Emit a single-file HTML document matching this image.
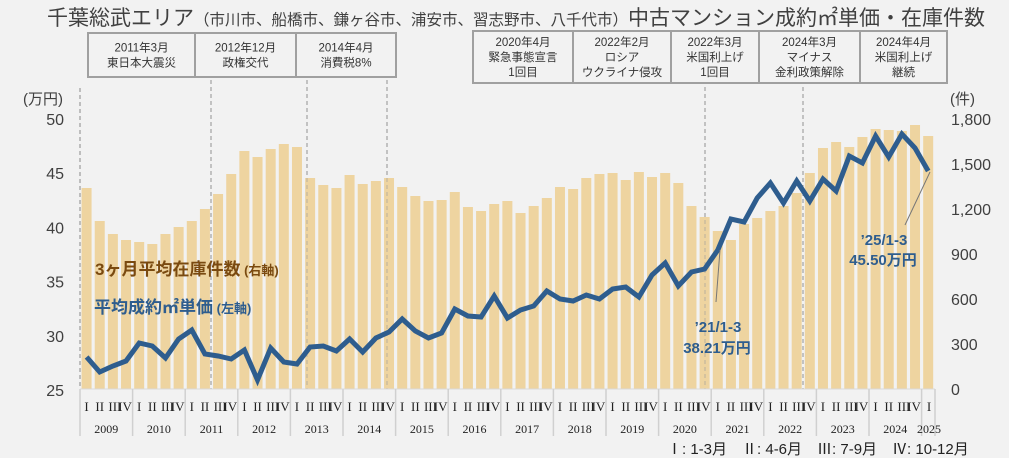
<!DOCTYPE html>
<html><head><meta charset="utf-8">
<style>
html,body{margin:0;padding:0;background:#f2f2f2;}
svg{display:block;font-family:"Liberation Sans","Noto Sans CJK JP",sans-serif;}
</style></head>
<body>
<svg id="s" width="1009" height="458" viewBox="0 0 1009 458" xmlns="http://www.w3.org/2000/svg">
<rect width="1009" height="458" fill="#f2f2f2"/>
<text x="47" y="25" font-size="21" fill="#404040">千葉総武エリア<tspan font-size="15.5">（市川市、船橋市、鎌ヶ谷市、浦安市、習志野市、八千代市）</tspan>中古マンション成約㎡単価・在庫件数</text>
<g id="g"></g>
</svg>
<script>
const NS="http://www.w3.org/2000/svg",g=document.getElementById('g');
function el(t,a,txt){const e=document.createElementNS(NS,t);for(const k in a)e.setAttribute(k,a[k]);if(txt!==undefined)e.textContent=txt;g.appendChild(e);return e;}
const bars=[188,221,234,240,242,244,234,227,221,209,194,174,151,157,149,144,147,178,185,188,175,184,181,178,187,196,201,200,192,207,211,204,201,213,206,198,187,189,178,174,173,180,172,177,173,183,206,217,231,240,224,218,211,206,193,173,148,142,147,137,129,130,131,125,136];
const line=[357,372,366,361,343,346,358,339,330,354,356,359,350,380,348,362,364,347,346,351,339,352,338,332,319,331,338,333,309,316,317,296,318,310,306,291,299,301,295,299,289,287,297,275,263,286,272,269,250,219,222,198,183,203,181,201,179,191,156,163,136,157,134,148,171];
const x0=80,q=13.15,yb=389;
[80,211,307,387,705,803].forEach(x=>el('line',{x1:x,y1:x==80?88:80,x2:x,y2:yb,stroke:'#8a8a8a','stroke-width':1,'stroke-dasharray':'4,3'}));
bars.forEach((t,i)=>{const c=x0+q*(i+0.5);el('rect',{x:c-5,y:t,width:10,height:yb-t,fill:'#eed4a0'});});
[211,307,387,705,803].forEach(x=>el('line',{x1:x,y1:80,x2:x,y2:yb,stroke:'#9a9a9a','stroke-width':1,'stroke-dasharray':'4,3','opacity':0.6}));
el('polyline',{points:line.map((y,i)=>(x0+q*(i+0.5)).toFixed(1)+','+y).join(' '),fill:'none',stroke:'#2e5d8e','stroke-width':5,'stroke-linejoin':'miter'});
el('text',{x:23,y:104,'font-size':15,fill:'#404040'},'(万円)');
[50,45,40,35,30,25].forEach((v,k)=>el('text',{x:64,y:125+k*54.2,'font-size':16,fill:'#404040','text-anchor':'end'},v));
el('text',{x:950,y:104,'font-size':15,fill:'#404040'},'(件)');
['1,800','1,500','1,200','900','600','300','0'].forEach((v,k)=>el('text',{x:951,y:125+k*45,'font-size':16,fill:'#404040'},v));
el('line',{x1:80,y1:yb,x2:935,y2:yb,stroke:'#d9d9d9','stroke-width':1});
for(let y=0;y<=16;y++){const xs=x0+q*4*y;el('line',{x1:xs,y1:yb,x2:xs,y2:436,stroke:'#d0d0d0','stroke-width':1.5});
 if(y<16){const qs=['I','II','III','IV'];qs.forEach((l,j)=>el('text',{x:xs+q*(j+0.5)+(j==2?2:j==3?-1:0),y:411,'font-size':13,'font-family':'Liberation Serif,serif',fill:'#222','text-anchor':'middle'},l));
 el('text',{x:xs+q*2,y:433,'font-size':12,'font-family':'Liberation Serif,serif',fill:'#222','text-anchor':'middle'},2009+y);}
}
el('line',{x1:935,y1:yb,x2:935,y2:436,stroke:'#d0d0d0','stroke-width':1.5});
el('text',{x:929,y:411,'font-size':13,'font-family':'Liberation Serif,serif',fill:'#222','text-anchor':'middle'},'I');
el('text',{x:929,y:433,'font-size':12,'font-family':'Liberation Serif,serif',fill:'#222','text-anchor':'middle'},'2025');
el('text',{x:667,y:454,'font-size':15,fill:'#222'},'Ⅰ: 1-3月　Ⅱ: 4-6月　Ⅲ: 7-9月　Ⅳ: 10-12月');
function boxes(x1,x2,y1,y2,divs,labels){el('rect',{x:x1,y:y1,width:x2-x1,height:y2-y1,fill:'#f2f2f2',stroke:'#a0a0a0','stroke-width':2});
 divs.forEach(d=>el('line',{x1:d,y1:y1,x2:d,y2:y2,stroke:'#a0a0a0','stroke-width':2}));
 const xs=[x1,...divs,x2];labels.forEach((ls,i)=>{const c=(xs[i]+xs[i+1])/2;const n=ls.length;const top=(y1+y2)/2-(n-1)*7.5+4;ls.forEach((l,j)=>el('text',{x:c,y:top+j*15,'font-size':11.5,fill:'#333','text-anchor':'middle'},l));});}
boxes(88,396,33,77,[195,296],[['2011年3月','東日本大震災'],['2012年12月','政権交代'],['2014年4月','消費税8%']]);
boxes(473,947,31,83,[573,671,759,860],[['2020年4月','緊急事態宣言','1回目'],['2022年2月','ロシア','ウクライナ侵攻'],['2022年3月','米国利上げ','1回目'],['2024年3月','マイナス','金利政策解除'],['2024年4月','米国利上げ','継続']]);
function leg(x,y,c,a,b){const t=el('text',{x:x,y:y,'font-size':17,'font-weight':'bold',fill:c},a);const s=document.createElementNS(NS,'tspan');s.setAttribute('font-size','13');s.textContent=' (' +b+')';t.appendChild(s);}
leg(95,275,'#7a4a10','3ヶ月平均在庫件数','右軸');
leg(94,313,'#2e5d8e','平均成約㎡単価','左軸');
el('line',{x1:716,y1:302,x2:720,y2:250,stroke:'#777','stroke-width':1});
el('text',{x:718,y:332,'font-size':15,'font-weight':'bold',fill:'#2e5d8e','text-anchor':'middle'},'’21/1-3');
el('text',{x:717,y:353,'font-size':15,'font-weight':'bold',fill:'#2e5d8e','text-anchor':'middle'},'38.21万円');
el('line',{x1:905,y1:225,x2:930,y2:172,stroke:'#777','stroke-width':1});
el('text',{x:884,y:245,'font-size':15,'font-weight':'bold',fill:'#2e5d8e','text-anchor':'middle'},'’25/1-3');
el('text',{x:883,y:265,'font-size':15,'font-weight':'bold',fill:'#2e5d8e','text-anchor':'middle'},'45.50万円');
</script>
</body></html>
